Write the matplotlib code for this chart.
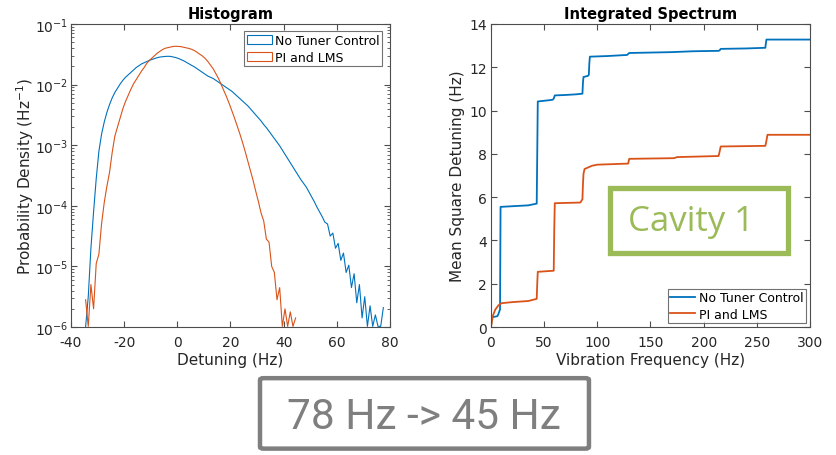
import numpy as np
import matplotlib.pyplot as plt
from matplotlib.patches import FancyBboxPatch, Rectangle, Patch

# histogram bin centres (1 Hz bins), densities stored as log10 values
blue_centers = np.arange(-34.5, 78, 1)
blue_log10 = [
    -6.0, -5.5, -4.7, -4.1, -3.55, -3.1, -2.82, -2.62, -2.46, -2.33,
    -2.22, -2.13, -2.06, -1.99, -1.93, -1.88, -1.84, -1.80, -1.76, -1.72,
    -1.69, -1.66, -1.64, -1.62, -1.60, -1.585, -1.57, -1.555, -1.545, -1.54,
    -1.535, -1.533, -1.535, -1.545, -1.555, -1.57, -1.59, -1.61, -1.635, -1.66,
    -1.685, -1.71, -1.74, -1.77, -1.80, -1.83, -1.86, -1.88, -1.90, -1.93,
    -1.96, -1.99, -2.02, -2.05, -2.08, -2.11, -2.15, -2.19, -2.23, -2.27,
    -2.31, -2.35, -2.40, -2.45, -2.50, -2.55, -2.60, -2.66, -2.71, -2.77,
    -2.83, -2.89, -2.95, -3.01, -3.08, -3.15, -3.22, -3.29, -3.36, -3.43,
    -3.50, -3.57, -3.63, -3.69, -3.77, -3.85, -3.93, -4.02, -4.10, -4.18,
    -4.27, -4.30, -4.50, -4.45, -4.70, -4.62, -4.90, -4.78, -5.10, -4.98,
    -5.35, -5.12, -5.60, -5.30, -5.85, -5.50, -5.99, -5.65, -5.99, -5.80,
    -5.99, -5.99, -5.68,
]
orange_centers = np.arange(-34.5, 45, 1)
orange_log10 = [
    -5.55, -5.99, -5.30, -5.70, -4.95, -4.80, -4.30, -3.95, -3.68, -3.45,
    -3.12, -2.85, -2.70, -2.55, -2.40, -2.28, -2.18, -2.08, -1.99, -1.92,
    -1.85, -1.78, -1.72, -1.65, -1.60, -1.56, -1.52, -1.48, -1.45, -1.42,
    -1.40, -1.39, -1.38, -1.37, -1.368, -1.37, -1.375, -1.385, -1.395, -1.405,
    -1.42, -1.44, -1.47, -1.50, -1.53, -1.57, -1.62, -1.68, -1.74, -1.82,
    -1.90, -2.00, -2.10, -2.20, -2.31, -2.43, -2.55, -2.68, -2.81, -2.95,
    -3.10, -3.26, -3.42, -3.58, -3.76, -3.93, -4.12, -4.25, -4.55, -4.60,
    -5.00, -5.10, -5.55, -5.35, -5.99, -5.70, -5.99, -5.75, -5.99, -5.85,
]

# cumulative mean square detuning vs vibration frequency
freq_nt = [0, 0.5, 1, 6, 7, 8, 8.5, 9, 20, 35, 43, 43.5, 44, 55, 58, 59, 60,
           70, 80, 86, 86.5, 87, 91, 92, 92.5, 93, 110, 128, 130, 150, 170,
           190, 214, 215, 216, 240, 258, 258.5, 259, 300]
msd_nt = [0, 0.3, 0.45, 0.5, 0.6, 0.75, 0.8, 5.55, 5.58, 5.62, 5.7, 8.0,
          10.42, 10.48, 10.5, 10.55, 10.7, 10.72, 10.75, 10.78, 11.3, 11.55,
          11.6, 11.65, 12.2, 12.49, 12.52, 12.57, 12.66, 12.68, 12.7, 12.74,
          12.76, 12.78, 12.85, 12.87, 12.9, 13.1, 13.28, 13.28]
freq_pl = [0, 1, 2, 4, 7, 10, 20, 35, 43, 43.5, 44, 59, 59.5, 60, 84, 86,
           86.5, 87, 88, 95, 100, 129, 130, 172, 175, 214, 215, 216, 258,
           259, 260, 300]
msd_pl = [0, 0.3, 0.55, 0.8, 1.0, 1.1, 1.15, 1.2, 1.3, 2.0, 2.55, 2.6, 4.5,
          5.72, 5.75, 5.9, 6.6, 7.08, 7.3, 7.45, 7.5, 7.55, 7.77, 7.8, 7.85,
          7.9, 8.1, 8.34, 8.37, 8.6, 8.88, 8.88]

blue = "#0072BD"
orange = "#D95319"
axcol = "#4d4d4d"
txtcol = "#262626"

plt.rcParams['font.family'] = ['DejaVu Sans']
plt.rcParams['axes.unicode_minus'] = False
fig = plt.figure(figsize=(8.36, 4.56), dpi=100)
ax1 = fig.add_axes([0.0849, 0.2807, 0.3816, 0.6645])
ax2 = fig.add_axes([0.5873, 0.2807, 0.3816, 0.6645])

ax1.plot(blue_centers, 10 ** np.array(blue_log10), color=blue, lw=0.8)
ax1.plot(orange_centers, 10 ** np.array(orange_log10), color=orange, lw=0.8)
ax1.set_yscale("log")
ax1.set_xlim(-40, 80)
ax1.set_ylim(1e-6, 1e-1)
ax1.set_xticks(np.arange(-40, 81, 20))
ax1.set_title("Histogram", fontsize=10.5, fontweight="bold", pad=4)
ax1.set_xlabel("Detuning (Hz)", fontsize=11, color=txtcol, labelpad=2)
ax1.set_ylabel("Probability Density (Hz$^{-1}$)", fontsize=11, color=txtcol,
               labelpad=-1)
hist_handles = [Patch(facecolor="none", edgecolor=blue, lw=0.8),
                Patch(facecolor="none", edgecolor=orange, lw=0.8)]
leg1 = ax1.legend(hist_handles, ["No Tuner Control", "PI and LMS"],
                  loc="upper right", fontsize=9, fancybox=False,
                  edgecolor=axcol, borderaxespad=0.6, handlelength=2.0,
                  handletextpad=0.3, borderpad=0.2, labelspacing=0.3)
leg1.get_frame().set_linewidth(0.8)

ax2.plot(freq_nt, msd_nt, color=blue, lw=1.3, label="No Tuner Control")
ax2.plot(freq_pl, msd_pl, color=orange, lw=1.3, label="PI and LMS")
ax2.set_xlim(0, 300)
ax2.set_ylim(0, 14)
ax2.set_xticks(np.arange(0, 301, 50))
ax2.set_yticks(np.arange(0, 15, 2))
ax2.set_title("Integrated Spectrum", fontsize=10.5, fontweight="bold", pad=4)
ax2.set_xlabel("Vibration Frequency (Hz)", fontsize=11, color=txtcol,
               labelpad=2)
ax2.set_ylabel("Mean Square Detuning (Hz)", fontsize=11, color=txtcol,
               labelpad=3)
leg2 = ax2.legend(loc="lower right", fontsize=9, fancybox=False,
                  edgecolor=axcol, borderaxespad=0.3, handlelength=2.0,
                  handletextpad=0.3, borderpad=0.2, labelspacing=0.3)
leg2.get_frame().set_linewidth(0.8)

for ax in (ax1, ax2):
    ax.tick_params(which="both", direction="in", top=True, right=True,
                   colors=axcol, labelcolor=txtcol, labelsize=10, pad=3)
    ax.tick_params(axis="x", pad=6)
    ax.tick_params(which="major", length=4)
    ax.tick_params(which="minor", length=2)
    for s in ax.spines.values():
        s.set_color(axcol)
        s.set_linewidth(0.8)
ax1.tick_params(axis="y", which="both", pad=2)

# annotation boxes
green = "#9BBB59"
fig.patches.append(Rectangle((0.7297, 0.4430), 0.2130, 0.1425,
                             transform=fig.transFigure, fill=False,
                             edgecolor=green, lw=3.8))
fig.text(0.826, 0.513, "Cavity 1", color=green, fontsize=25,
         family="Open Sans", ha="center", va="center")

gray = "#7f7f7f"
fig.patches.append(FancyBboxPatch((0.3110, 0.0140), 0.3935, 0.1545,
                                  boxstyle="round,pad=0,rounding_size=0.004",
                                  transform=fig.transFigure, fill=False,
                                  edgecolor=gray, lw=3.2))
fig.text(0.507, 0.085, "78 Hz -> 45 Hz", color=gray, fontsize=30.5,
         family="Roboto", ha="center", va="center")

fig.savefig("out.png", dpi=100)
